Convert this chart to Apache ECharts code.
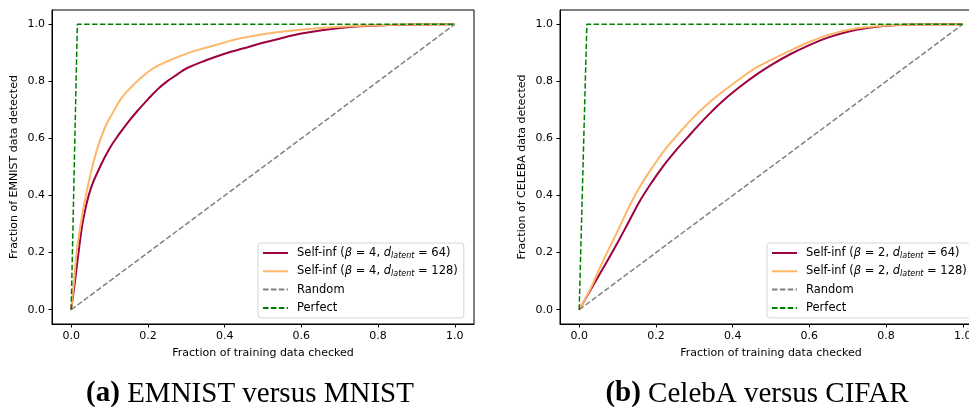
<!DOCTYPE html>
<html>
<head>
<meta charset="utf-8">
<script src="https://cdn.jsdelivr.net/npm/echarts@6/dist/echarts.min.js"></script>
<style>
  html, body { margin: 0; background: #fff; }
  #chart { width: 969px; height: 407px; }
</style>
</head>
<body>
<div id="chart"></div>
<script>
  // data, [fraction checked, fraction detected]
  var emnist64 = [[0, 0], [0.01, 0.10], [0.02, 0.21], [0.032, 0.32], [0.05, 0.42], [0.075, 0.50], [0.1, 0.565],
    [0.125, 0.615], [0.15, 0.66], [0.175, 0.70], [0.2, 0.737], [0.225, 0.772], [0.25, 0.80], [0.275, 0.823],
    [0.3, 0.845], [0.35, 0.873], [0.4, 0.897], [0.45, 0.916], [0.5, 0.935], [0.55, 0.952], [0.6, 0.968],
    [0.7, 0.987], [0.8, 0.996], [0.9, 0.999], [1, 1]]
  var emnist128 = [[0, 0], [0.008, 0.11], [0.015, 0.21], [0.028, 0.325], [0.045, 0.443], [0.067, 0.56], [0.089, 0.641],
    [0.11, 0.694], [0.128, 0.735], [0.145, 0.764], [0.18, 0.81], [0.214, 0.846], [0.25, 0.87], [0.292, 0.893],
    [0.335, 0.912], [0.379, 0.928], [0.42, 0.944], [0.466, 0.957], [0.53, 0.971], [0.596, 0.981], [0.68, 0.99],
    [0.8, 0.997], [1, 1]]
  var celeba64 = [[0, 0], [0.03, 0.07], [0.06, 0.14], [0.1, 0.235], [0.13, 0.31], [0.16, 0.385], [0.19, 0.448],
    [0.22, 0.505], [0.25, 0.555], [0.28, 0.60], [0.31, 0.645], [0.34, 0.687], [0.38, 0.738], [0.42, 0.782],
    [0.46, 0.822], [0.5, 0.857], [0.55, 0.895], [0.6, 0.927], [0.65, 0.954], [0.7, 0.974], [0.75, 0.987],
    [0.8, 0.995], [0.87, 0.999], [1, 1]]
  var celeba128 = [[0, 0], [0.03, 0.075], [0.06, 0.165], [0.1, 0.275], [0.13, 0.36], [0.16, 0.435], [0.19, 0.497],
    [0.22, 0.555], [0.25, 0.603], [0.28, 0.648], [0.31, 0.69], [0.34, 0.727], [0.38, 0.77], [0.42, 0.81],
    [0.46, 0.847], [0.5, 0.875], [0.55, 0.908], [0.6, 0.938], [0.65, 0.963], [0.7, 0.98], [0.75, 0.99],
    [0.8, 0.996], [0.87, 0.999], [1, 1]]
  var randomLine = [[0, 0], [1, 1]]
  var perfectA = [[0, 0], [0.016, 1], [1, 1]]
  var perfectB = [[0, 0], [0.02, 1], [1, 1]]
  var tickValues = [0, 0.2, 0.4, 0.6, 0.8, 1.0]

  var names = {
    a64: 'Self-inf (β = 4, d_latent = 64)',
    a128: 'Self-inf (β = 4, d_latent = 128)',
    b64: 'Self-inf (β = 2, d_latent = 64)',
    b128: 'Self-inf (β = 2, d_latent = 128)'
  }

  var FONT = 'DejaVu Sans'
  var RED = '#9e0142'
  var ORANGE = '#fdb768'

  function axis(i, type) {
    var isX = type === 'x'
    return {
      type: 'value',
      gridIndex: i,
      min: -0.05,
      max: 1.05,
      name: isX ? 'Fraction of training data checked'
        : (i === 0 ? 'Fraction of EMNIST data detected' : 'Fraction of CELEBA data detected'),
      nameLocation: 'middle',
      nameGap: isX ? 24 : 32,
      nameTextStyle: { fontFamily: FONT, fontSize: 11, color: '#000' },
      axisLine: { show: true, onZero: false, lineStyle: { color: '#000', width: 1 } },
      axisTick: { show: true, length: 3.5, customValues: tickValues, lineStyle: { color: '#000' } },
      axisLabel: {
        customValues: tickValues,
        margin: 7,
        fontFamily: FONT,
        fontSize: 11,
        color: '#000',
        formatter: function (v) { return v.toFixed(1) }
      },
      splitLine: { show: false }
    }
  }

  function line(name, data, i, color, dashed, width) {
    return {
      name: name,
      type: 'line',
      xAxisIndex: i,
      yAxisIndex: i,
      data: data,
      symbol: 'none',
      smooth: dashed ? false : 0.4,
      lineStyle: { color: color, width: width, type: dashed ? [5.5, 2.4] : 'solid' },
      itemStyle: { color: color }
    }
  }

  function legend(left, items) {
    return {
      orient: 'vertical',
      left: left,
      top: 243,
      data: items,
      selectedMode: false,
      itemWidth: 25,
      itemHeight: 10,
      itemGap: 4.3,
      padding: [3, 6, 3, 4],
      backgroundColor: '#fff',
      borderColor: '#d5d5d5',
      borderWidth: 1,
      borderRadius: 3,
      itemStyle: { opacity: 0 },
      formatter: function (n) {
        return n.replace('β', '{i|β}').replace('d_latent', '{i|d}{s|latent}')
      },
      textStyle: {
        fontFamily: FONT,
        fontSize: 11.5,
        color: '#000',
        lineHeight: 14,
        padding: [0, 0, 0, 4],
        rich: {
          i: { fontFamily: FONT, fontSize: 11.5, fontStyle: 'italic', lineHeight: 14, color: '#000' },
          s: { fontFamily: FONT, fontSize: 8, fontStyle: 'italic', lineHeight: 8, verticalAlign: 'bottom', color: '#000' }
        }
      }
    }
  }

  var chart = echarts.init(document.getElementById('chart'))
  chart.setOption({
    animation: false,
    backgroundColor: '#fff',
    grid: [
      { left: 52, top: 10, width: 422, height: 314, show: true, borderColor: '#000', borderWidth: 1, outerBoundsMode: 'none' },
      { left: 560, top: 10, width: 422, height: 314, show: true, borderColor: '#000', borderWidth: 1, outerBoundsMode: 'none' }
    ],
    xAxis: [axis(0, 'x'), axis(1, 'x')],
    yAxis: [axis(0, 'y'), axis(1, 'y')],
    legend: [
      legend(258, [names.a64, names.a128, 'Random', 'Perfect']),
      legend(767, [names.b64, names.b128, 'Random', 'Perfect'])
    ],
    graphic: [
      {
        type: 'text', x: 250, y: 394,
        style: {
          text: '{b|(a)} EMNIST versus MNIST', align: 'center', verticalAlign: 'middle',
          font: '29px "Liberation Serif"', fill: '#000',
          rich: { b: { font: 'bold 29px "Liberation Serif"', fill: '#000' } }
        }
      },
      {
        type: 'text', x: 757, y: 394,
        style: {
          text: '{b|(b)} CelebA versus CIFAR', align: 'center', verticalAlign: 'middle',
          font: '29px "Liberation Serif"', fill: '#000',
          rich: { b: { font: 'bold 29px "Liberation Serif"', fill: '#000' } }
        }
      }
    ],
    series: [
      line(names.a64, emnist64, 0, RED, false, 2),
      line(names.a128, emnist128, 0, ORANGE, false, 2),
      line('Random', randomLine, 0, '#808080', true, 1.5),
      line('Perfect', perfectA, 0, '#008000', true, 1.5),
      line(names.b64, celeba64, 1, RED, false, 2),
      line(names.b128, celeba128, 1, ORANGE, false, 2),
      line('Random', randomLine, 1, '#808080', true, 1.5),
      line('Perfect', perfectB, 1, '#008000', true, 1.5)
    ]
  })
</script>
</body>
</html>
